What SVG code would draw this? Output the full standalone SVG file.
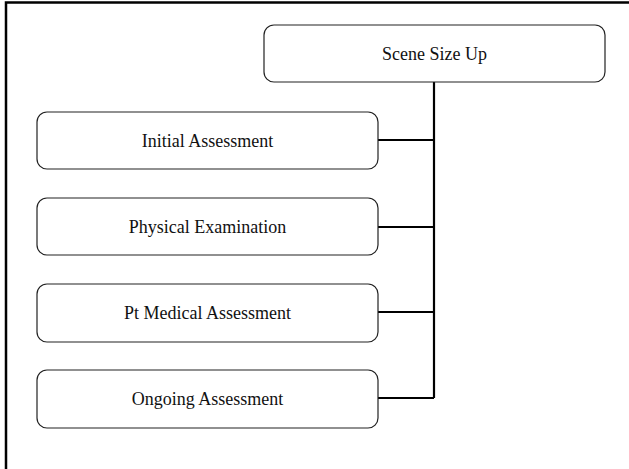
<svg xmlns="http://www.w3.org/2000/svg" width="629" height="469" viewBox="0 0 629 469">
<style>
.box{fill:#fff;stroke:#222;stroke-width:1.2}
.lbl{font-family:"Liberation Serif","Times New Roman",serif;font-size:18px;fill:#111;text-anchor:middle}
.con{fill:none;stroke:#000;stroke-width:2.2}
.frame{fill:none;stroke:#000;stroke-width:2.5}
</style>
<rect width="629" height="469" fill="#fff"/>
<path class="frame" d="M6,469 V2.5 H629"/>
<g id="connectors">
<path class="con" d="M434,82 V398"/>
<path class="con" d="M378,140 H434"/>
<path class="con" d="M378,227 H434"/>
<path class="con" d="M378,312 H434"/>
<path class="con" d="M378,398 H434"/>
</g>
<g id="scene-size-up">
<rect class="box" x="264" y="25" width="341" height="57" rx="10"/>
<text class="lbl" x="434.5" y="60">Scene Size Up</text>
</g>
<g id="initial-assessment">
<rect class="box" x="37" y="112" width="341" height="57" rx="10"/>
<text class="lbl" x="207.5" y="147">Initial Assessment</text>
</g>
<g id="physical-examination">
<rect class="box" x="37" y="198" width="341" height="57" rx="10"/>
<text class="lbl" x="207.5" y="233">Physical Examination</text>
</g>
<g id="pt-medical-assessment">
<rect class="box" x="37" y="284" width="341" height="58" rx="10"/>
<text class="lbl" x="207.5" y="319">Pt Medical Assessment</text>
</g>
<g id="ongoing-assessment">
<rect class="box" x="37" y="370" width="341" height="58" rx="10"/>
<text class="lbl" x="207.5" y="405">Ongoing Assessment</text>
</g>
</svg>
